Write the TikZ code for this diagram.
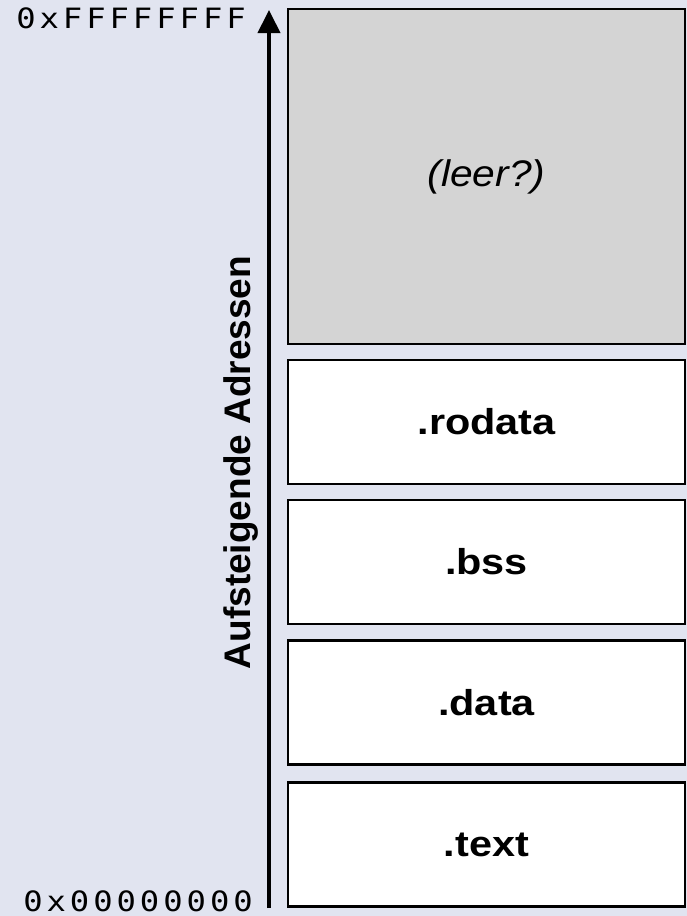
\documentclass[tikz,border=0pt]{standalone}
\usepackage{fontspec}
\setmainfont{Liberation Sans}
\newfontfamily\hexfont{DejaVu Sans Mono}
\usetikzlibrary{arrows.meta}

\definecolor{pagebg}{RGB}{225,228,240}
\definecolor{emptyfill}{RGB}{212,212,212}

% fixed-pitch cells for the address labels
\newcommand\hexcells[1]{\hexcellloop#1\relax}
\def\hexcellloop#1{\ifx#1\relax\else\makebox[20.3pt]{#1}\expandafter\hexcellloop\fi}

\tikzset{
  segment/.style={draw=black, line width=2.5pt, fill=white,
    minimum width=397pt, minimum height=124pt, inner sep=0pt},
  seglabel/.style={font=\fontsize{36}{40}\selectfont\bfseries, xscale=1.15},
  addrlabel/.style={font=\hexfont\fontsize{28}{30}\selectfont, xscale=1.15,
    inner sep=0pt, anchor=base east},
}

\begin{document}
\begin{tikzpicture}[x=1pt, y=-1pt]
  \fill[pagebg] (0,0) rectangle (687,916);
  \useasboundingbox (0,0) rectangle (687,916);

  % memory segments
  \node[segment, fill=emptyfill, minimum height=335pt] (leer) at (486.5,176.5) {};
  \node[segment] (rodata) at (486.5,422) {};
  \node[segment] (bss)    at (486.5,562) {};
  \node[segment] (data)   at (486.5,702.5) {};
  \node[segment] (text)   at (486.5,844.5) {};

  \node[font=\fontsize{37}{40}\selectfont\itshape, xscale=1.1] at (leer) {(leer?)};
  \node[seglabel] at (rodata) {.rodata};
  \node[seglabel] at (bss) {.bss};
  \node[seglabel] at (data) {.data};
  \node[seglabel] at (text) {.text};

  % address axis
  \coordinate (lo) at (269,908);
  \coordinate (hi) at (269,10);
  \draw[line width=4pt, -{Triangle[width=22pt,length=23pt]}] (lo) -- (hi);
  \node[rotate=90, anchor=base, inner sep=0pt,
        font=\fontsize{37}{40}\selectfont\bfseries] (axis) at (250,462.5)
        {Aufsteigende Adressen};

  \node[addrlabel] (top) at (248,28) {\hexcells{0xFFFFFFFF}};
  \node[addrlabel] (bottom) at (255,911) {\hexcells{0x00000000}};
\end{tikzpicture}
\end{document}
